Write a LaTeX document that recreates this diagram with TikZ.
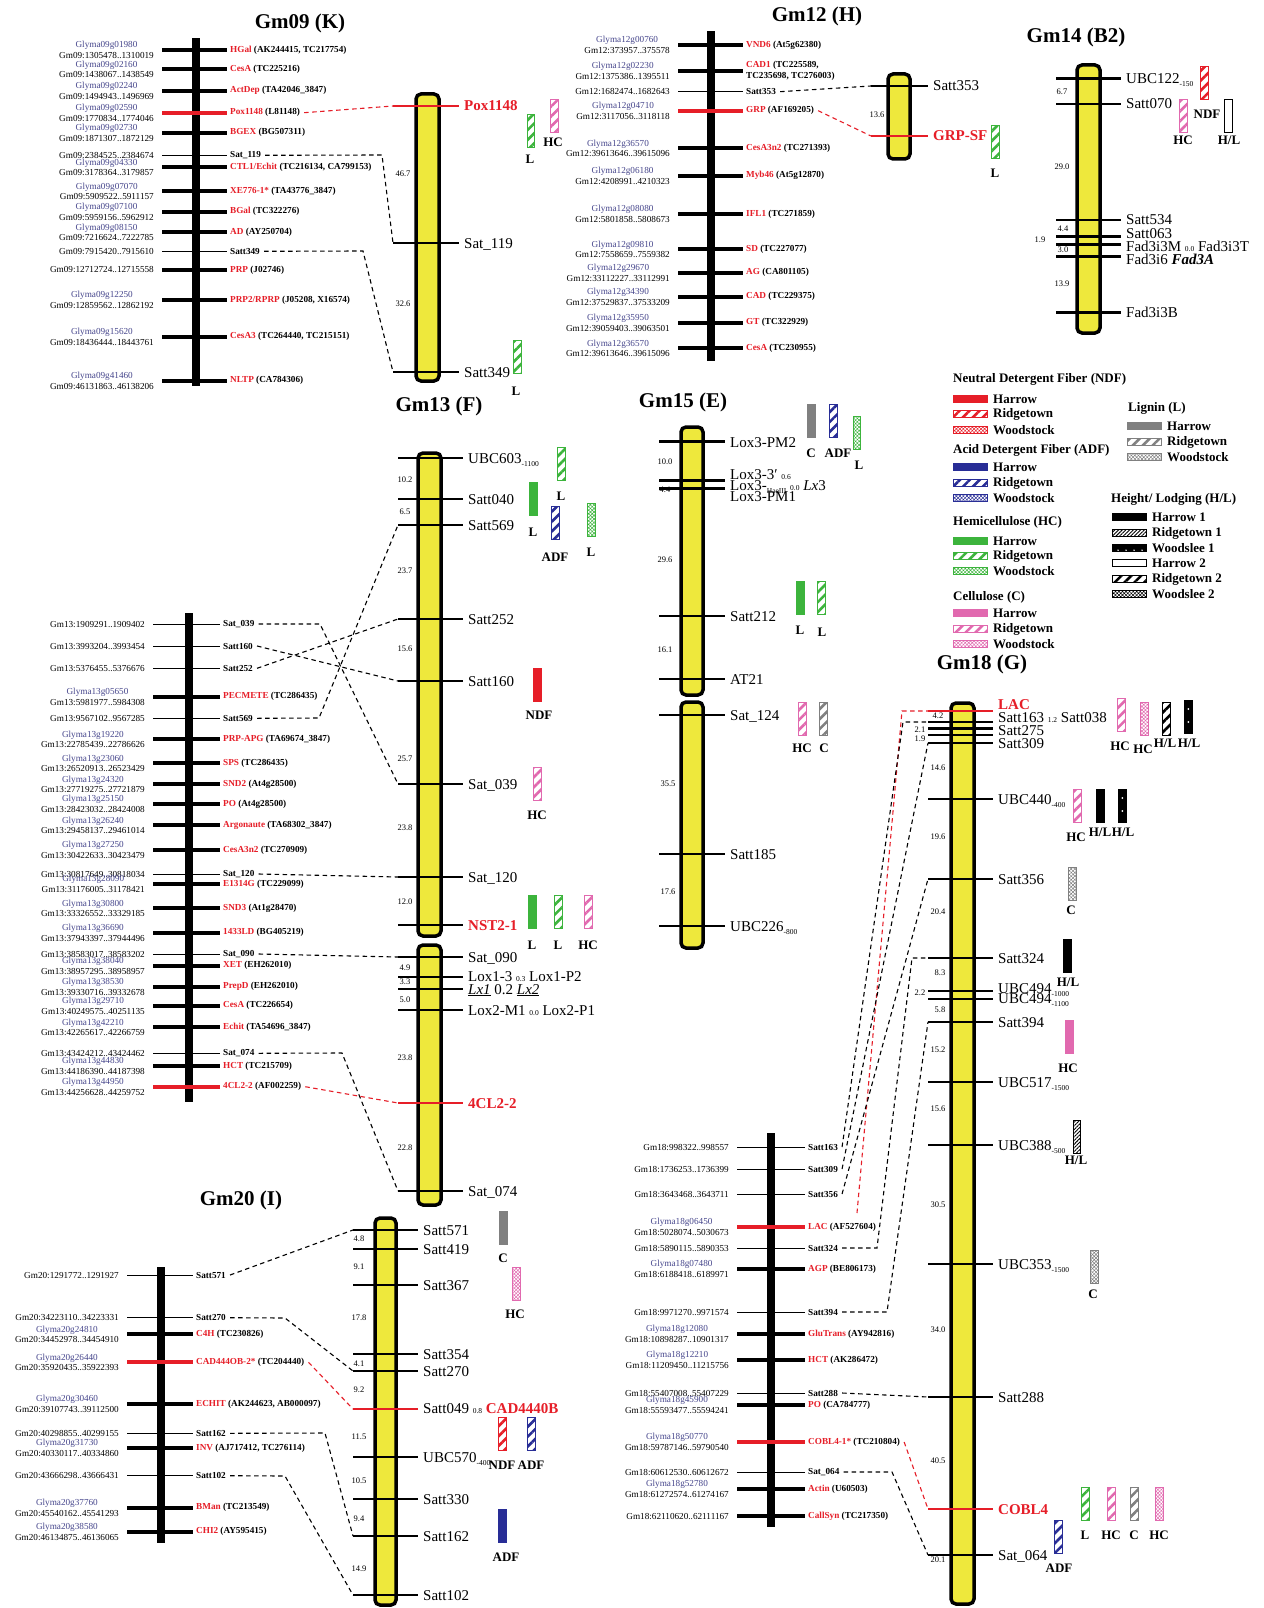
\documentclass[tikz,border=0pt]{standalone}
\usepackage{fontspec}
\setmainfont{Liberation Serif}
\usetikzlibrary{patterns.meta}
\definecolor{gred}{RGB}{230,30,40}
\definecolor{gpink}{RGB}{225,105,175}
\definecolor{ggreen}{RGB}{60,180,60}
\definecolor{gblue}{RGB}{40,45,150}
\definecolor{ggray}{RGB}{128,128,128}
\definecolor{gyellow}{RGB}{238,232,60}
\definecolor{glyma}{RGB}{70,70,140}
\newcounter{dn}
\newcommand\gl[2]{\textcolor{glyma}{#1}\\#2}
\newcommand\gn[1]{\textcolor{gred}{#1}}
\newcommand\tn[1]{{\fontsize{7.5}{7.5}\selectfont #1}}
\newcommand\sbs[1]{\raisebox{-3pt}{\fontsize{7.5}{7.5}\selectfont #1}}
\newcommand\prow[5]{%
  \draw[#3] (\pa,#2) -- (\pb,#2);
  \node[leftlab] (#1l) at (\pa-8,#2) {#4};
  \node[rightlab] (#1r) at (\pb+3,#2) {#5};}
\newcommand\ytk[5]{%
  \draw[#3] (\ya,#2) coordinate (#1) -- (\yb,#2);
  \node[ylab] (#1t) at (\yb+5,#5+5) {#4};}
\newcommand\dst[3]{\stepcounter{dn}\node[dist] (d\thedn) at (#1,#2) {#3};}
\newcommand\qbar[7]{%
  \node[qtl,#4] (#1) at (#2,#3) {};
  \node[qlab] (#1t) at (#6,#7) {#5};}
\newcommand\wdots[1]{\fill[white] ([yshift=-9pt]#1.north) circle (1pt) ([yshift=-22pt]#1.north) circle (1pt);}
\newcommand\sw[4]{%
  \node[swatch,#3] (#1) at (\lx,#2) {};
  \node[legt] (#1t) at (\lx+40,#2) {#4};}
\tikzset{
  thk/.style={line width=4pt},
  thn/.style={line width=1pt},
  rthk/.style={line width=4pt, draw=gred},
  ytk/.style={line width=2.5pt},
  rtk/.style={line width=2.5pt, draw=gred},
  leftlab/.style={font=\fontsize{9.2}{10.6}\selectfont, align=center, inner sep=0pt, anchor=east},
  rightlab/.style={font=\bfseries\fontsize{9.2}{11}\selectfont, align=left, inner sep=0pt, anchor=west},
  chromo/.style={draw=black, fill=gyellow, line width=3.5pt, rounded corners=5pt},
  ylab/.style={font=\fontsize{15}{15}\selectfont, inner sep=0pt, anchor=base west},
  dist/.style={font=\fontsize{8.5}{8.5}\selectfont, inner sep=0pt},
  conn/.style={draw=black, line width=1.1pt, dash pattern=on 4.5pt off 3.5pt},
  rconn/.style={conn, draw=gred},
  qtl/.style={minimum width=7.5pt, minimum height=33pt, inner sep=0pt, anchor=north west, line width=1pt},
  qlab/.style={font=\bfseries\fontsize{13}{13}\selectfont, inner sep=0pt},
  qH/.style={fill=#1, draw=#1},
  qR/.style={draw=#1, pattern={Lines[angle=45,distance=7pt,line width=2.6pt]}, pattern color=#1},
  qW/.style={draw=#1, pattern={Hatch[angle=45,distance=2.5pt,line width=0.5pt]}, pattern color=#1},
  qR1/.style={draw=black, pattern={Lines[angle=45,distance=2.6pt,line width=0.9pt]}, pattern color=black},
  qE/.style={draw=black, fill=white},
  swatch/.style={minimum width=34pt, minimum height=7.5pt, inner sep=0pt, anchor=west, line width=0.9pt},
  legt/.style={font=\bfseries\fontsize{13}{13}\selectfont, inner sep=0pt, anchor=west},
  ttl/.style={font=\bfseries\fontsize{21}{21}\selectfont, inner sep=0pt},
}
\begin{document}
\begin{tikzpicture}[x=1pt,y=-1pt]
\useasboundingbox (0,0) rectangle (1263,1608);
\fill[white] (0,0) rectangle (1263,1608);
% ---------------- titles
\node[ttl] (t09) at (300,23) {Gm09 (K)};
\node[ttl] (t12) at (817,16) {Gm12 (H)};
\node[ttl] (t14) at (1076,37) {Gm14 (B2)};
\node[ttl] (t13) at (439,406) {Gm13 (F)};
\node[ttl] (t15) at (683,402) {Gm15 (E)};
\node[ttl] (t20) at (241,1200) {Gm20 (I)};
\node[ttl] (t18) at (982,664) {Gm18 (G)};
% ================= Gm09 physical
\def\pa{162}\def\pb{227}
\fill[black] (192,38) rectangle (200,386);
\prow{g9a}{50}{thk}{\gl{Glyma09g01980}{Gm09:1305478..1310019}}{\gn{HGal} (AK244415, TC217754)}
\prow{g9b}{69.3}{thk}{\gl{Glyma09g02160}{Gm09:1438067..1438549}}{\gn{CesA} (TC225216)}
\prow{g9c}{90.7}{thk}{\gl{Glyma09g02240}{Gm09:1494943..1496969}}{\gn{ActDep} (TA42046\_3847)}
\prow{g9d}{112.7}{rthk}{\gl{Glyma09g02590}{Gm09:1770834..1774046}}{\gn{Pox1148} (L81148)}
\prow{g9e}{132.7}{thk}{\gl{Glyma09g02730}{Gm09:1871307..1872129}}{\gn{BGEX} (BG507311)}
\prow{g9f}{155.3}{thn}{Gm09:2384525..2384674}{Sat\_119}
\prow{g9g}{167.3}{thk}{\gl{Glyma09g04330}{Gm09:3178364..3179857}}{\gn{CTL1/Echit} (TC216134, CA799153)}
\prow{g9h}{191.3}{thk}{\gl{Glyma09g07070}{Gm09:5909522..5911157}}{\gn{XE776-1*} (TA43776\_3847)}
\prow{g9i}{211.7}{thk}{\gl{Glyma09g07100}{Gm09:5959156..5962912}}{\gn{BGal} (TC322276)}
\prow{g9j}{232.3}{thk}{\gl{Glyma09g08150}{Gm09:7216624..7222785}}{\gn{AD} (AY250704)}
\prow{g9k}{251.3}{thn}{Gm09:7915420..7915610}{Satt349}
\prow{g9m}{270}{thk}{Gm09:12712724..12715558}{\gn{PRP} (J02746)}
\prow{g9n}{300}{thk}{\gl{Glyma09g12250}{Gm09:12859562..12862192}}{\gn{PRP2/RPRP} (J05208, X16574)}
\prow{g9o}{336.7}{thk}{\gl{Glyma09g15620}{Gm09:18436444..18443761}}{\gn{CesA3} (TC264440, TC215151)}
\prow{g9p}{380.7}{thk}{\gl{Glyma09g41460}{Gm09:46131863..46138206}}{\gn{NLTP} (CA784306)}
% Gm09 genetic
\draw[chromo] (416,94) rectangle (439,381);
\def\ya{393}\def\yb{459}
\ytk{y9a}{106}{rtk}{\bfseries\textcolor{gred}{Pox1148}}{106}
\ytk{y9b}{243}{ytk}{Sat\_119}{243}
\ytk{y9c}{372}{ytk}{Satt349}{372}
\dst{403}{174}{46.7}\dst{403}{304}{32.6}
\draw[rconn] ([xshift=4pt]g9dr.east) -- (y9a);
\draw[conn] ([xshift=4pt]g9fr.east) -- (382,155) -- (y9b);
\draw[conn] ([xshift=4pt]g9kr.east) -- (363,251) -- (y9c);
\qbar{q9a}{526}{113}{qR=ggreen}{L}{530}{159}
\qbar{q9b}{550}{99}{qR=gpink}{HC}{553}{142}
\qbar{q9c}{513}{340}{qR=ggreen}{L}{516}{391}
% ================= Gm12 physical
\def\pa{678}\def\pb{743}
\fill[black] (707,31) rectangle (715,361);
\prow{g12a}{45}{thk}{\gl{Glyma12g00760}{Gm12:373957..375578}}{\gn{VND6} (At5g62380)}
\prow{g12b}{70.7}{thk}{\gl{Glyma12g02230}{Gm12:1375386..1395511}}{\gn{CAD1} (TC225589,\\TC235698, TC276003)}
\prow{g12c}{91.7}{thn}{Gm12:1682474..1682643}{Satt353}
\prow{g12d}{110.7}{rthk}{\gl{Glyma12g04710}{Gm12:3117056..3118118}}{\gn{GRP} (AF169205)}
\prow{g12e}{148.3}{thk}{\gl{Glyma12g36570}{Gm12:39613646..39615096}}{\gn{CesA3n2} (TC271393)}
\prow{g12f}{175.7}{thk}{\gl{Glyma12g06180}{Gm12:4208991..4210323}}{\gn{Myb46} (At5g12870)}
\prow{g12g}{214}{thk}{\gl{Glyma12g08080}{Gm12:5801858..5808673}}{\gn{IFL1} (TC271859)}
\prow{g12h}{249.3}{thk}{\gl{Glyma12g09810}{Gm12:7558659..7559382}}{\gn{SD} (TC227077)}
\prow{g12i}{272.7}{thk}{\gl{Glyma12g29670}{Gm12:33112227..33112991}}{\gn{AG} (CA801105)}
\prow{g12j}{296.7}{thk}{\gl{Glyma12g34390}{Gm12:37529837..37533209}}{\gn{CAD} (TC229375)}
\prow{g12k}{322.7}{thk}{\gl{Glyma12g35950}{Gm12:39059403..39063501}}{\gn{GT} (TC322929)}
\prow{g12m}{348.3}{thk}{\gl{Glyma12g36570}{Gm12:39613646..39615096}}{\gn{CesA} (TC230955)}
\draw[chromo] (888,74) rectangle (910,159);
\def\ya{871}\def\yb{928}
\ytk{y12a}{86}{ytk}{Satt353}{86}
\ytk{y12b}{136}{rtk}{\bfseries\textcolor{gred}{GRP-SF}}{136}
\dst{877}{115}{13.6}
\draw[conn] ([xshift=4pt]g12cr.east) -- (y12a);
\draw[rconn] ([xshift=4pt]g12dr.east) -- (y12b);
\qbar{q12a}{991}{125}{qR=ggreen}{L}{995}{173}
% ================= Gm14
\draw[chromo] (1077,65) rectangle (1100,333);
\def\ya{1056}\def\yb{1121}
\ytk{y14a}{78.3}{ytk}{UBC122\sbs{-150}}{78.3}
\ytk{y14b}{104}{ytk}{Satt070}{104}
\ytk{y14c}{220}{ytk}{Satt534}{220}
\ytk{y14d}{236.7}{ytk}{Satt063}{233}
\ytk{y14e}{244.3}{ytk}{Fad3i3M \tn{0.0} Fad3i3T}{246}
\ytk{y14f}{256.7}{ytk}{Fad3i6 \textbf{\textit{Fad3A}}}{259}
\ytk{y14g}{312.7}{ytk}{Fad3i3B}{312.7}
\dst{1062}{92}{6.7}\dst{1062}{167}{29.0}\dst{1063}{229}{4.4}\dst{1040}{240}{1.9}\dst{1063}{250}{3.0}\dst{1062}{284}{13.9}
\qbar{q14a}{1200}{66}{qR=gred}{NDF}{1207}{114}
\qbar{q14b}{1179}{99}{qR=gpink}{HC}{1183}{140}
\qbar{q14c}{1224}{99}{qE}{H/L}{1229}{140}
% ================= Gm15
\draw[chromo] (681,427) rectangle (703,695);
\draw[chromo] (681,702) rectangle (703,948);
\def\ya{659}\def\yb{725}
\ytk{y15a}{441.7}{ytk}{Lox3-PM2}{442}
\ytk{y15b}{480.7}{ytk}{Lox3-3′ \tn{0.6}}{474}
\node[ylab] (y15bb) at (730,490) {Lox3-\sbs{HaeIII} \tn{0.0} \textit{Lx}3};
\ytk{y15c}{488.3}{ytk}{Lox3-PM1}{496}
\ytk{y15d}{616}{ytk}{Satt212}{616}
\ytk{y15e}{679}{ytk}{AT21}{679}
\ytk{y15f}{715}{ytk}{Sat\_124}{715}
\ytk{y15g}{854}{ytk}{Satt185}{854}
\ytk{y15h}{926}{ytk}{UBC226\sbs{-800}}{926}
\dst{665}{462}{10.0}\dst{665}{490}{4.4}\dst{665}{560}{29.6}\dst{665}{650}{16.1}\dst{668}{784}{35.5}\dst{668}{892}{17.6}
\qbar{q15a}{807}{404}{qH=ggray}{C}{811}{453}
\qbar{q15b}{829}{404}{qR=gblue}{ADF}{838}{453}
\qbar{q15c}{853}{416}{qW=ggreen}{L}{859}{465}
\qbar{q15d}{796}{581}{qH=ggreen}{L}{800}{630}
\qbar{q15e}{817}{581}{qR=ggreen}{L}{822}{632}
\qbar{q15f}{798}{702}{qR=gpink}{HC}{802}{748}
\qbar{q15g}{819}{702}{qR=ggray}{C}{824}{748}
% ================= Gm13 physical
\def\pa{153}\def\pb{220}
\fill[black] (185,613) rectangle (193,1102);
\prow{g13a}{624}{thn}{Gm13:1909291..1909402}{Sat\_039}
\prow{g13b}{646}{thn}{Gm13:3993204..3993454}{Satt160}
\prow{g13c}{668.3}{thn}{Gm13:5376455..5376676}{Satt252}
\prow{g13d}{696.7}{thk}{\gl{Glyma13g05650}{Gm13:5981977..5984308}}{\gn{PECMETE} (TC286435)}
\prow{g13e}{718.3}{thn}{Gm13:9567102..9567285}{Satt569}
\prow{g13f}{739.3}{thk}{\gl{Glyma13g19220}{Gm13:22785439..22786626}}{\gn{PRP-APG} (TA69674\_3847)}
\prow{g13g}{763.3}{thk}{\gl{Glyma13g23060}{Gm13:26520913..26523429}}{\gn{SPS} (TC286435)}
\prow{g13h}{784.3}{thk}{\gl{Glyma13g24320}{Gm13:27719275..27721879}}{\gn{SND2} (At4g28500)}
\prow{g13i}{804}{thk}{\gl{Glyma13g25150}{Gm13:28423032..28424008}}{\gn{PO} (At4g28500)}
\prow{g13j}{825.3}{thk}{\gl{Glyma13g26240}{Gm13:29458137..29461014}}{\gn{Argonaute} (TA68302\_3847)}
\prow{g13k}{850}{thk}{\gl{Glyma13g27250}{Gm13:30422633..30423479}}{\gn{CesA3n2} (TC270909)}
\prow{g13l}{874}{thn}{Gm13:30817649..30818034}{Sat\_120}
\prow{g13m}{884}{thk}{\gl{Glyma13g28090}{Gm13:31176005..31178421}}{\gn{E1314G} (TC229099)}
\prow{g13n}{908.3}{thk}{\gl{Glyma13g30800}{Gm13:33326552..33329185}}{\gn{SND3} (At1g28470)}
\prow{g13o}{932.7}{thk}{\gl{Glyma13g36690}{Gm13:37943397..37944496}}{\gn{1433LD} (BG405219)}
\prow{g13p}{954}{thn}{Gm13:38583017..38583202}{Sat\_090}
\prow{g13q}{965.7}{thk}{\gl{Glyma13g38040}{Gm13:38957295..38958957}}{\gn{XET} (EH262010)}
\prow{g13r}{986.7}{thk}{\gl{Glyma13g38530}{Gm13:39330716..39332678}}{\gn{PrepD} (EH262010)}
\prow{g13s}{1005.7}{thk}{\gl{Glyma13g29710}{Gm13:40249575..40251135}}{\gn{CesA} (TC226654)}
\prow{g13t}{1027.3}{thk}{\gl{Glyma13g42210}{Gm13:42265617..42266759}}{\gn{Echit} (TA54696\_3847)}
\prow{g13u}{1053.3}{thn}{Gm13:43424212..43424462}{Sat\_074}
\prow{g13v}{1066}{thk}{\gl{Glyma13g44830}{Gm13:44186390..44187398}}{\gn{HCT} (TC215709)}
\prow{g13w}{1086.7}{rthk}{\gl{Glyma13g44950}{Gm13:44256628..44259752}}{\gn{4CL2-2} (AF002259)}
% Gm13 genetic
\draw[chromo] (418,453) rectangle (441,936);
\draw[chromo] (418,945) rectangle (441,1205);
\def\ya{398}\def\yb{463}
\ytk{y13a}{458}{ytk}{UBC603\sbs{-1100}}{458}
\ytk{y13b}{499}{ytk}{Satt040}{499}
\ytk{y13c}{525}{ytk}{Satt569}{525}
\ytk{y13d}{619}{ytk}{Satt252}{619}
\ytk{y13e}{681}{ytk}{Satt160}{681}
\ytk{y13f}{784}{ytk}{Sat\_039}{784}
\ytk{y13g}{877}{ytk}{Sat\_120}{877}
\ytk{y13h}{925}{ytk}{\bfseries\textcolor{gred}{NST2-1}}{925}
\ytk{y13i}{957}{ytk}{Sat\_090}{957}
\ytk{y13j}{977}{ytk}{Lox1-3 \tn{0.3} Lox1-P2}{976}
\ytk{y13k}{989}{ytk}{\underline{\textit{Lx1}} 0.2 \underline{\textit{Lx2}}}{989}
\ytk{y13l}{1010}{ytk}{Lox2-M1 \tn{0.0} Lox2-P1}{1010}
\ytk{y13m}{1103}{rtk}{\bfseries\textcolor{gred}{4CL2-2}}{1103}
\ytk{y13n}{1191}{ytk}{Sat\_074}{1191}
\dst{405}{480}{10.2}\dst{405}{512}{6.5}\dst{405}{571}{23.7}\dst{405}{649}{15.6}\dst{405}{759}{25.7}\dst{405}{828}{23.8}\dst{405}{902}{12.0}
\dst{405}{968}{4.9}\dst{405}{982}{3.3}\dst{405}{1000}{5.0}\dst{405}{1058}{23.8}\dst{405}{1148}{22.8}
\draw[conn] ([xshift=4pt]g13ar.east) -- (320,624) -- (y13f);
\draw[conn] ([xshift=4pt]g13br.east) -- (y13e);
\draw[conn] ([xshift=4pt]g13cr.east) -- (y13d);
\draw[conn] ([xshift=4pt]g13er.east) -- (319,718) -- (y13c);
\draw[conn] ([xshift=4pt]g13lr.east) -- (y13g);
\draw[conn] ([xshift=4pt]g13pr.east) -- (y13i);
\draw[conn] ([xshift=4pt]g13ur.east) -- (342,1053) -- (y13n);
\draw[rconn] ([xshift=4pt]g13wr.east) -- (y13m);
\qbar{q13a}{557}{447}{qR=ggreen}{L}{561}{496}
\qbar{q13b}{529}{482}{qH=ggreen}{L}{533}{532}
\qbar{q13c}{551}{506}{qR=gblue}{ADF}{555}{557}
\qbar{q13d}{587}{503}{qW=ggreen}{L}{591}{552}
\qbar{q13e}{533}{668}{qH=gred}{NDF}{539}{715}
\qbar{q13f}{533}{767}{qR=gpink}{HC}{537}{815}
\qbar{q13g}{528}{895}{qH=ggreen}{L}{532}{945}
\qbar{q13h}{554}{895}{qR=ggreen}{L}{558}{945}
\qbar{q13i}{584}{895}{qR=gpink}{HC}{588}{945}
% ================= Gm20 physical
\def\pa{127}\def\pb{193}
\fill[black] (157,1267) rectangle (165,1543);
\prow{g20a}{1275}{thn}{Gm20:1291772..1291927}{Satt571}
\prow{g20b}{1317.7}{thn}{Gm20:34223110..34223331}{Satt270}
\prow{g20c}{1334.3}{thk}{\gl{Glyma20g24810}{Gm20:34452978..34454910}}{\gn{C4H} (TC230826)}
\prow{g20d}{1362.3}{rthk}{\gl{Glyma20g26440}{Gm20:35920435..35922393}}{\gn{CAD444OB-2*} (TC204440)}
\prow{g20e}{1404}{thk}{\gl{Glyma20g30460}{Gm20:39107743..39112500}}{\gn{ECHIT} (AK244623, AB000097)}
\prow{g20f}{1433.3}{thn}{Gm20:40298855..40299155}{Satt162}
\prow{g20g}{1448}{thk}{\gl{Glyma20g31730}{Gm20:40330117..40334860}}{\gn{INV} (AJ717412, TC276114)}
\prow{g20h}{1475.7}{thn}{Gm20:43666298..43666431}{Satt102}
\prow{g20i}{1507.7}{thk}{\gl{Glyma20g37760}{Gm20:45540162..45541293}}{\gn{BMan} (TC213549)}
\prow{g20j}{1531.7}{thk}{\gl{Glyma20g38580}{Gm20:46134875..46136065}}{\gn{CHI2} (AY595415)}
\draw[chromo] (375,1218) rectangle (396,1605);
\def\ya{353}\def\yb{418}
\ytk{y20a}{1230}{ytk}{Satt571}{1230}
\ytk{y20b}{1249}{ytk}{Satt419}{1249}
\ytk{y20c}{1285}{ytk}{Satt367}{1285}
\ytk{y20d}{1354}{ytk}{Satt354}{1354}
\ytk{y20e}{1371}{ytk}{Satt270}{1371}
\ytk{y20f}{1409}{rtk}{Satt049 \tn{0.8} {\bfseries\textcolor{gred}{CAD4440B}}}{1408}
\ytk{y20g}{1457}{ytk}{UBC570\sbs{-400}}{1457}
\ytk{y20h}{1499}{ytk}{Satt330}{1499}
\ytk{y20i}{1536}{ytk}{Satt162}{1536}
\ytk{y20j}{1595}{ytk}{Satt102}{1595}
\dst{359}{1239}{4.8}\dst{359}{1267}{9.1}\dst{359}{1318}{17.8}\dst{359}{1364}{4.1}\dst{359}{1390}{9.2}\dst{359}{1437}{11.5}\dst{359}{1481}{10.5}\dst{359}{1519}{9.4}\dst{359}{1569}{14.9}
\draw[conn] ([xshift=4pt]g20ar.east) -- (y20a);
\draw[conn] ([xshift=4pt]g20br.east) -- (285,1318) -- (y20e);
\draw[rconn] ([xshift=4pt]g20dr.east) -- (y20f);
\draw[conn] ([xshift=4pt]g20fr.east) -- (325,1433) -- (y20i);
\draw[conn] ([xshift=4pt]g20hr.east) -- (285,1476) -- (y20j);
\qbar{q20a}{499}{1211}{qH=ggray}{C}{503}{1258}
\qbar{q20b}{512}{1267}{qW=gpink}{HC}{515}{1314}
\qbar{q20c}{498}{1417}{qR=gred}{NDF}{502}{1465}
\qbar{q20d}{527}{1417}{qR=gblue}{ADF}{531}{1465}
\qbar{q20e}{498}{1509}{qH=gblue}{ADF}{506}{1557}
% ================= Gm18 physical
\def\pa{737}\def\pb{805}
\fill[black] (767,1133) rectangle (775,1527);
\prow{g18a}{1147}{thn}{Gm18:998322..998557}{Satt163}
\prow{g18b}{1169}{thn}{Gm18:1736253..1736399}{Satt309}
\prow{g18c}{1194}{thn}{Gm18:3643468..3643711}{Satt356}
\prow{g18d}{1227}{rthk}{\gl{Glyma18g06450}{Gm18:5028074..5030673}}{\gn{LAC} (AF527604)}
\prow{g18e}{1248}{thn}{Gm18:5890115..5890353}{Satt324}
\prow{g18f}{1269}{thk}{\gl{Glyma18g07480}{Gm18:6188418..6189971}}{\gn{AGP} (BE806173)}
\prow{g18g}{1312}{thn}{Gm18:9971270..9971574}{Satt394}
\prow{g18h}{1334}{thk}{\gl{Glyma18g12080}{Gm18:10898287..10901317}}{\gn{GluTrans} (AY942816)}
\prow{g18i}{1360}{thk}{\gl{Glyma18g12210}{Gm18:11209450..11215756}}{\gn{HCT} (AK286472)}
\prow{g18j}{1393}{thn}{Gm18:55407008..55407229}{Satt288}
\prow{g18k}{1405}{thk}{\gl{Glyma18g45900}{Gm18:55593477..55594241}}{\gn{PO} (CA784777)}
\prow{g18m}{1442}{rthk}{\gl{Glyma18g50770}{Gm18:59787146..59790540}}{\gn{COBL4-1*} (TC210804)}
\prow{g18n}{1472}{thn}{Gm18:60612530..60612672}{Sat\_064}
\prow{g18o}{1489}{thk}{\gl{Glyma18g52780}{Gm18:61272574..61274167}}{\gn{Actin} (U60503)}
\prow{g18p}{1516}{thk}{Gm18:62110620..62111167}{\gn{CallSyn} (TC217350)}
\draw[chromo] (951,703) rectangle (974,1604);
\def\ya{928}\def\yb{993}
\ytk{y18a}{711}{rtk}{\bfseries\textcolor{gred}{LAC}}{704}
\ytk{y18b}{722}{ytk}{Satt163 \tn{1.2} Satt038}{717}
\ytk{y18c}{728.5}{ytk}{Satt275}{730}
\draw[ytk] (\ya,735) coordinate (y18x) -- (\yb,735);
\ytk{y18d}{743}{ytk}{Satt309}{743}
\ytk{y18e}{799}{ytk}{UBC440\sbs{-400}}{799}
\ytk{y18f}{879}{ytk}{Satt356}{879}
\ytk{y18g}{958}{ytk}{Satt324}{958}
\ytk{y18h}{991}{ytk}{UBC494\sbs{-1000}}{988}
\ytk{y18i}{999}{ytk}{UBC494\sbs{-1100}}{998}
\ytk{y18j}{1022}{ytk}{Satt394}{1022}
\ytk{y18k}{1082}{ytk}{UBC517\sbs{-1500}}{1082}
\ytk{y18l}{1145}{ytk}{UBC388\sbs{-500}}{1145}
\ytk{y18m}{1264}{ytk}{UBC353\sbs{-1500}}{1264}
\ytk{y18n}{1397}{ytk}{Satt288}{1397}
\ytk{y18o}{1509}{rtk}{\bfseries\textcolor{gred}{COBL4}}{1509}
\ytk{y18p}{1555}{ytk}{Sat\_064}{1555}
\dst{938}{716}{4.2}\dst{920}{730}{2.1}\dst{920}{739}{1.9}\dst{938}{768}{14.6}\dst{938}{837}{19.6}\dst{938}{912}{20.4}\dst{940}{973}{8.3}\dst{920}{993}{2.2}\dst{940}{1010}{5.8}
\dst{938}{1050}{15.2}\dst{938}{1109}{15.6}\dst{938}{1205}{30.5}\dst{938}{1330}{34.0}\dst{938}{1461}{40.5}\dst{938}{1560}{20.1}
\coordinate (lacfree) at (857,1213);
\draw[rconn] (lacfree) -- (902,711) -- (y18a);
\draw[conn] ([xshift=4pt]g18ar.east) -- (903,722) -- (y18b);
\draw[conn] ([xshift=4pt]g18br.east) -- (y18d);
\draw[conn] ([xshift=4pt]g18cr.east) -- (y18f);
\draw[conn] ([xshift=4pt]g18er.east) -- (877,1248) -- (912,958) -- (y18g);
\draw[conn] ([xshift=4pt]g18gr.east) -- (887,1312) -- (y18j);
\draw[conn] ([xshift=4pt]g18jr.east) -- (y18n);
\draw[rconn] ([xshift=4pt]g18mr.east) -- (y18o);
\draw[conn] ([xshift=4pt]g18nr.east) -- (892,1472) -- (y18p);
\qbar{q18a}{1117}{698}{qR=gpink}{HC}{1120}{746}
\qbar{q18b}{1140}{702}{qW=gpink}{HC}{1143}{749}
\qbar{q18c}{1162}{702}{qR=black}{H/L}{1165}{743}
\qbar{q18d}{1184}{700}{qH=black}{H/L}{1189}{743}\wdots{q18d}
\qbar{q18e}{1073}{789}{qR=gpink}{HC}{1076}{837}
\qbar{q18f}{1096}{789}{qH=black}{H/L}{1100}{832}
\qbar{q18g}{1118}{789}{qH=black}{H/L}{1123}{832}\wdots{q18g}
\qbar{q18h}{1068}{867}{qW=ggray}{C}{1071}{910}
\qbar{q18i}{1063}{939}{qH=black}{H/L}{1068}{982}
\qbar{q18j}{1065}{1020}{qH=gpink}{HC}{1068}{1068}
\qbar{q18k}{1073}{1120}{qR1}{H/L}{1076}{1160}
\qbar{q18l}{1090}{1250}{qW=ggray}{C}{1093}{1294}
\qbar{q18m}{1054}{1520}{qR=gblue}{ADF}{1059}{1568}
\qbar{q18n}{1081}{1487}{qR=ggreen}{L}{1085}{1535}
\qbar{q18o}{1107}{1487}{qR=gpink}{HC}{1111}{1535}
\qbar{q18p}{1130}{1487}{qR=ggray}{C}{1134}{1535}
\qbar{q18q}{1155}{1487}{qW=gpink}{HC}{1159}{1535}
% ================= Legend
\def\lx{953}
\node[legt] (lh1) at (953,379) {Neutral Detergent Fiber (NDF)};
\sw{n1}{399}{qH=gred}{Harrow}
\sw{n2}{414}{qR=gred}{Ridgetown}
\sw{n3}{430}{qW=gred}{Woodstock}
\node[legt] (lh2) at (953,450) {Acid Detergent Fiber (ADF)};
\sw{a1}{467}{qH=gblue}{Harrow}
\sw{a2}{483}{qR=gblue}{Ridgetown}
\sw{a3}{498}{qW=gblue}{Woodstock}
\node[legt] (lh3) at (953,522) {Hemicellulose (HC)};
\sw{h1}{541}{qH=ggreen}{Harrow}
\sw{h2}{556}{qR=ggreen}{Ridgetown}
\sw{h3}{571}{qW=ggreen}{Woodstock}
\node[legt] (lh4) at (953,597) {Cellulose (C)};
\sw{c1}{613}{qH=gpink}{Harrow}
\sw{c2}{629}{qR=gpink}{Ridgetown}
\sw{c3}{644}{qW=gpink}{Woodstock}
\def\lx{1127}
\node[legt] (lh5) at (1128,408) {Lignin (L)};
\sw{l1}{426}{qH=ggray}{Harrow}
\sw{l2}{442}{qR=ggray}{Ridgetown}
\sw{l3}{457}{qW=ggray}{Woodstock}
\def\lx{1112}
\node[legt] (lh6) at (1111,499) {Height/ Lodging (H/L)};
\sw{k1}{517}{qH=black}{Harrow 1}
\sw{k2}{533}{qR1}{Ridgetown 1}
\sw{k3}{548}{qH=black}{Woodslee 1}
\fill[white] ([xshift=6pt,yshift=2pt]k3.south west) circle (0.8pt) ([xshift=14pt,yshift=2pt]k3.south west) circle (0.8pt) ([xshift=22pt,yshift=2pt]k3.south west) circle (0.8pt) ([xshift=30pt,yshift=2pt]k3.south west) circle (0.8pt);
\sw{k4}{563}{qE}{Harrow 2}
\sw{k5}{579}{qR=black}{Ridgetown 2}
\sw{k6}{594}{qW=black}{Woodslee 2}
\end{tikzpicture}
\end{document}
